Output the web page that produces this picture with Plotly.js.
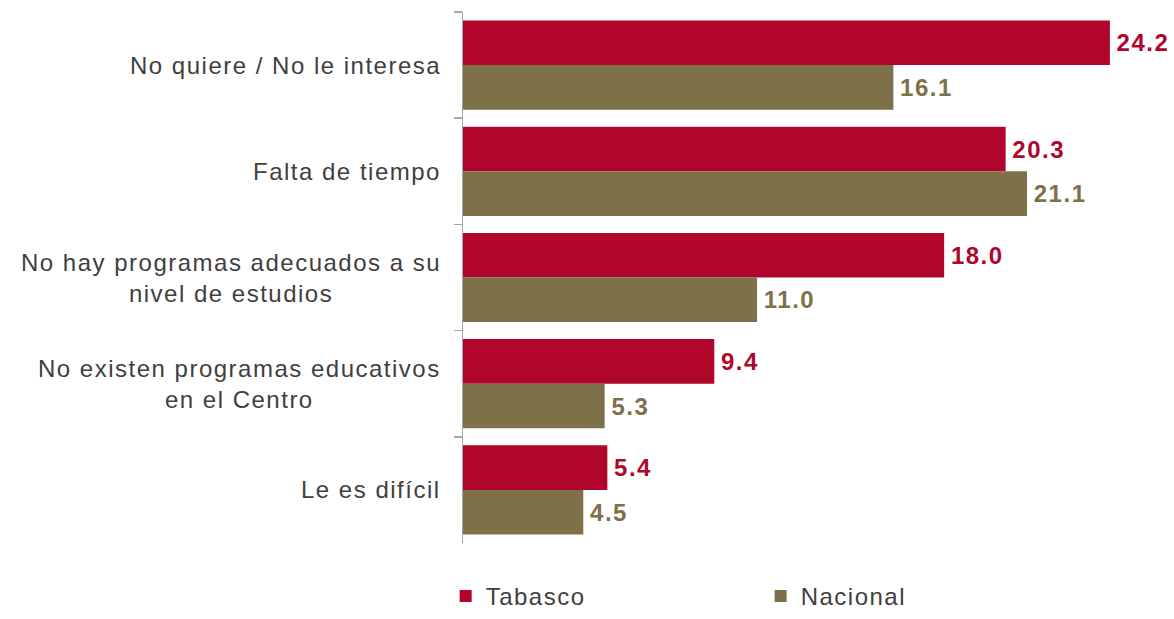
<!DOCTYPE html>
<html>
<head>
<meta charset="utf-8">
<script src="https://cdn.plot.ly/plotly-3.0.1.min.js"></script>
<style>
html,body{margin:0;padding:0;background:#fff;}
#chart{width:1174px;height:619px;}
text{letter-spacing:1.5px;}
</style>
</head>
<body>
<div id="chart"></div>
<script>
var categories = [
  "No quiere / No le interesa",
  "Falta de tiempo",
  "No hay programas adecuados a su<br>nivel de estudios",
  "No existen programas educativos<br>en el Centro",
  "Le es difícil"
];
var tabasco = [24.2, 20.3, 18.0, 9.4, 5.4];
var nacional = [16.1, 21.1, 11.0, 5.3, 4.5];
var seriesNames = ["Tabasco", "Nacional"];

var red = "#B0062C";
var olive = "#7E714A";
var FONT = "Liberation Sans, Arial, sans-serif";

function barTrace(name, vals, color) {
  return {
    type: "bar", orientation: "h", name: name,
    y: categories, x: vals,
    marker: {color: color},
    text: vals.map(function(v){return v.toFixed(1);}),
    texttemplate: '<span style="font-size:8px">\u00a0</span>%{text}',
    textposition: "outside", cliponaxis: false,
    textfont: {family: FONT, size: 24, color: color, weight: "bold"}
  };
}

var traces = [
  barTrace(seriesNames[0], tabasco, red),
  barTrace(seriesNames[1], nacional, olive)
];

var annotations = categories.map(function(c){
  return {
    xref: "paper", yref: "y", x: 0, y: c,
    xanchor: "right", yanchor: "middle", xshift: -20,
    text: c, showarrow: false, align: "center",
    font: {family: FONT, size: 24, color: "#404040"}
  };
});

var layout = {
  width: 1174, height: 619,
  margin: {l: 463, r: 16, t: 12, b: 76, autoexpand: false},
  paper_bgcolor: "#fff", plot_bgcolor: "#fff",
  barmode: "group", bargap: 0.16, bargroupgap: 0,
  font: {family: FONT, size: 24, color: "#404040"},
  xaxis: {range: [0, 26], visible: false, fixedrange: true},
  yaxis: {
    autorange: "reversed", type: "category",
    showline: true, linecolor: "#A6A6A6", linewidth: 1.5,
    ticks: "outside", tickson: "boundaries", ticklen: 8, tickcolor: "#A6A6A6", tickwidth: 1.5,
    showticklabels: false,
    showgrid: false, zeroline: false
  },
  annotations: annotations,
  showlegend: true,
  legend: {
    orientation: "h",
    xref: "container", x: 0.3796, xanchor: "left",
    yref: "container", y: 0, yanchor: "bottom",
    entrywidth: 270, entrywidthmode: "pixels",
    font: {family: FONT, size: 24, color: "#404040"},
    itemwidth: 30, traceorder: "normal"
  }
};

Plotly.newPlot("chart", traces, layout, {displayModeBar: false, staticPlot: true});
</script>
</body>
</html>
